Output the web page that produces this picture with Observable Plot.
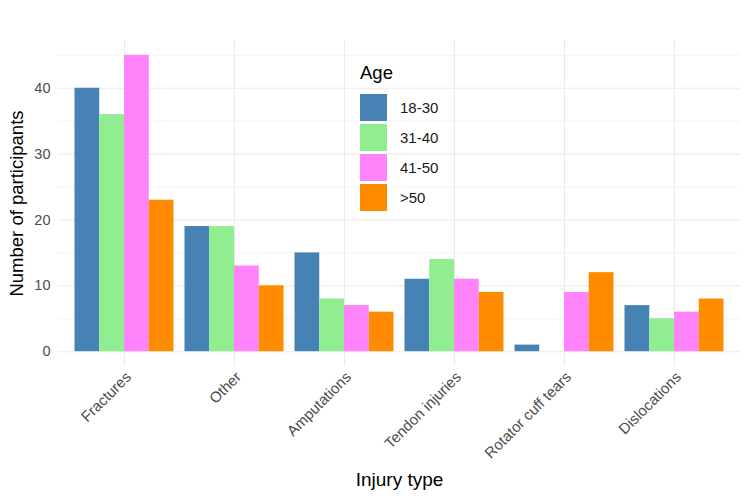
<!DOCTYPE html>
<html>
<head>
<meta charset="utf-8">
<script src="https://cdn.jsdelivr.net/npm/d3@7"></script>
<script src="https://cdn.jsdelivr.net/npm/@observablehq/plot@0.6"></script>
<style>
  html, body { margin: 0; padding: 0; background: #fff; }
  #chart { position: relative; width: 750px; height: 500px; font-family: "Liberation Sans", Arial, sans-serif; }
  #legend { position: absolute; left: 360px; top: 62px; color: #000; }
  #legend .title { font-size: 18.5px; height: 30px; line-height: 22px; }
  #legend .row { display: flex; align-items: center; height: 30px; }
  #legend .key { width: 27px; height: 27px; margin-right: 12px; border: 1.5px solid #fff; box-sizing: content-box; margin-left: -1px; }
  #legend .lab { font-size: 15px; color: #1a1a1a; }
</style>
</head>
<body>
<div id="chart"></div>
<script>
// Injury types along the x axis
const categories = ["Fractures", "Other", "Amputations", "Tendon injuries", "Rotator cuff tears", "Dislocations"];
// Age groups (legend order) and their fills
const ageGroups = ["18-30", "31-40", "41-50", ">50"];
const ageColors = ["#4682B4", "#90EE90", "#FF83FA", "#FF8C00"];
// Participants per injury type, one array per age group
const age18to30 = [40, 19, 15, 11, 1, 7];
const age31to40 = [36, 19, 8, 14, 0, 5];
const age41to50 = [45, 13, 7, 11, 9, 6];
const ageOver50 = [23, 10, 6, 9, 12, 8];
// Tick values for the count axis
const yMajorTicks = [0, 10, 20, 30, 40];
const yMinorTicks = [5, 15, 25, 35, 45];

const seriesByAge = [age18to30, age31to40, age41to50, ageOver50];

// Dodged bars: category i sits at position i + 1, the group spans 0.9 of a unit
const groupWidth = 0.9;
const barWidth = groupWidth / ageGroups.length;
const rows = [];
categories.forEach((category, i) => {
  ageGroups.forEach((age, j) => {
    const x1 = i + 1 - groupWidth / 2 + j * barWidth;
    rows.push({category, age, value: seriesByAge[j][i], x1, x2: x1 + barWidth});
  });
});
const catPositions = categories.map((_, i) => i + 1);

const yMax = d3.max(seriesByAge.flat());
const yPad = yMax * 0.05;

const chart = Plot.plot({
  width: 750,
  height: 500,
  marginLeft: 58,
  marginRight: 10,
  marginTop: 40,
  marginBottom: 134,
  style: {fontFamily: "'Liberation Sans', Arial, sans-serif", fontSize: "14.5px", color: "#4d4d4d", background: "#fff"},
  x: {
    domain: [0.4, categories.length + 0.6],
    axis: null
  },
  y: {
    domain: [-yPad, yMax + yPad],
    ticks: yMajorTicks,
    tickSize: 0,
    tickPadding: 8,
    label: null
  },
  color: {domain: ageGroups, range: ageColors},
  marks: [
    Plot.ruleY(yMinorTicks, {stroke: "#f0f0f0", strokeWidth: 0.8}),
    Plot.ruleY(yMajorTicks, {stroke: "#ebebeb", strokeWidth: 1.1}),
    Plot.ruleX(catPositions, {stroke: "#ebebeb", strokeWidth: 1.1}),
    Plot.rectY(rows, {x1: "x1", x2: "x2", y: "value", fill: "age"}),
    // Rotated category labels, right-top corner at each tick
    Plot.text(catPositions, {
      x: d => d,
      text: d => categories[d - 1],
      frameAnchor: "bottom",
      rotate: -45,
      textAnchor: "end",
      lineAnchor: "top",
      dy: 4,
      fontSize: 15,
      fill: "#4d4d4d"
    }),
    Plot.text(["Number of participants"], {frameAnchor: "left", textAnchor: "middle", rotate: -90, dx: -41, fontSize: 18.5, fill: "#000"}),
    Plot.text(["Injury type"], {frameAnchor: "bottom", textAnchor: "middle", dy: 119, fontSize: 19, fill: "#000"})
  ]
});

const root = document.getElementById("chart");
root.appendChild(chart);

// Legend drawn from the same age groups and colours
const legend = document.createElement("div");
legend.id = "legend";
const title = document.createElement("div");
title.className = "title";
title.textContent = "Age";
legend.appendChild(title);
ageGroups.forEach((age, j) => {
  const row = document.createElement("div");
  row.className = "row";
  const key = document.createElement("div");
  key.className = "key";
  key.style.background = ageColors[j];
  const lab = document.createElement("span");
  lab.className = "lab";
  lab.textContent = age;
  row.appendChild(key);
  row.appendChild(lab);
  legend.appendChild(row);
});
root.appendChild(legend);
</script>
</body>
</html>
